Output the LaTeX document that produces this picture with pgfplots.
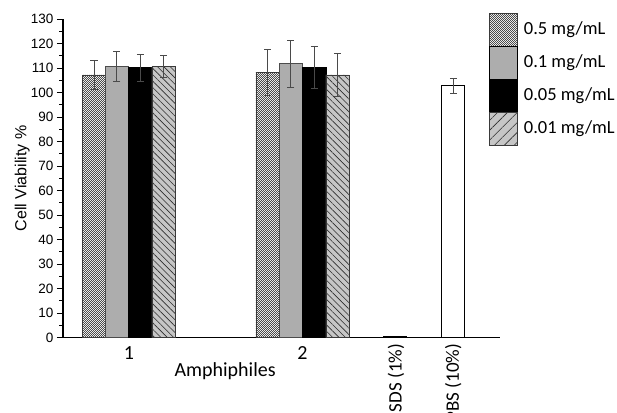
\documentclass[border=0pt]{standalone}
\usepackage{fontspec}
\setmainfont{Carlito}
\newfontfamily\arialf{Liberation Sans}
\usepackage{pgfplots}
\pgfplotsset{compat=1.18}
\usepackage{pgfplotstable}
\usetikzlibrary{patterns,patterns.meta}

\definecolor{barline}{HTML}{3A3A3A}
\definecolor{lightbar}{HTML}{ADADAD}
\definecolor{hatchbg}{HTML}{C6C6C6}
\definecolor{errcol}{HTML}{4A4A4A}

% small checkerboard for the 0.5 mg/mL bars
\pgfdeclarepatternformonly{checker}{\pgfpointorigin}{\pgfqpoint{2.4pt}{2.4pt}}{\pgfqpoint{2.4pt}{2.4pt}}{%
  \pgfpathrectangle{\pgfpointorigin}{\pgfqpoint{1.2pt}{1.2pt}}%
  \pgfpathrectangle{\pgfqpoint{1.2pt}{1.2pt}}{\pgfqpoint{1.2pt}{1.2pt}}%
  \pgfusepath{fill}}

\pgfplotsset{
  patch/.style={legend image code/.code={\draw[##1] (0pt,-16.25pt) rectangle (28pt,16.25pt);}},
  barstyle/.style={ybar, bar width=23.3, bar shift=0pt, forget plot,
    error bars/y dir=both, error bars/y explicit,
    error bars/error bar style={errcol, line width=0.7pt},
    error bars/error mark options={errcol, rotate=90, mark size=3.5pt, line width=0.7pt}},
}

% x is on a pixel-like scale so the uneven group spacing is kept
\pgfplotstableread{
x y err
94.0 107.2 6.0
267.5 108.3 9.4
}\concA
\pgfplotstableread{
x y err
116.75 110.6 6.2
290.75 111.8 9.6
}\concB
\pgfplotstableread{
x y err
140.25 110.1 5.5
314.25 110.3 8.7
}\concC
\pgfplotstableread{
x y err
163.5 110.8 4.5
337.5 107.2 8.6
}\concD
\pgfplotstableread{
x y err
395.0 0.5 0
}\sds
\pgfplotstableread{
x y err
453.3 102.7 3.1
}\pbs

\begin{document}
\begin{tikzpicture}
\begin{axis}[
  scale only axis,
  width=437pt, height=318.7pt,
  xmin=63, xmax=500,
  ymin=0, ymax=130,
  axis lines*=left,
  axis line style={line width=1.1pt, black},
  ytick={0,10,...,130},
  minor y tick num=1,
  tick align=outside,
  major tick length=6pt,
  minor tick length=3.5pt,
  ytick style={line width=0.9pt, black},
  yticklabel style={font=\arialf\fontsize{13.5}{15}\selectfont},
  /pgf/number format/assume math mode=true,
  xtick={129,302.5},
  xticklabels={1,2},
  xtick style={draw=none},
  xticklabel style={font=\fontsize{20}{24}\selectfont, inner sep=3pt},
  extra x ticks={396,453.3},
  extra x tick labels={SDS (1\%),PBS (10\%)},
  extra x tick style={xtick style={draw=none}, xticklabel style={rotate=90, anchor=east, inner sep=0pt, font=\fontsize{19}{22}\selectfont}},
  xlabel={Amphiphiles},
  xlabel style={at={(axis description cs:0.371,0)}, anchor=north, yshift=-25pt, inner sep=0pt, font=\fontsize{20}{24}\selectfont},
  ylabel={Cell Viability \%},
  ylabel style={at={(axis description cs:-0.0755,0.5)}, anchor=south, inner sep=0pt, font=\arialf\fontsize{16}{19}\selectfont},
  legend style={at={(axis description cs:0.975,1.0188)}, anchor=north west, draw=none, fill=none,
    inner sep=0pt, row sep=0pt, column sep=6pt, nodes={inner sep=0pt, text depth=},
    font=\fontsize{18.5}{22}\selectfont},
  legend cell align=left,
]
\addplot[barstyle, draw=barline, line width=0.6pt, pattern=checker, pattern color=gray!60!black]
  table[x=x, y=y, y error=err] {\concA};
\addplot[barstyle, draw=gray!60!black, line width=0.5pt, fill=lightbar]
  table[x=x, y=y, y error=err] {\concB};
\addplot[barstyle, draw=black, line width=0.6pt, fill=black]
  table[x=x, y=y, y error=err] {\concC};
\addplot[barstyle, draw=barline, line width=0.6pt, fill=hatchbg,
  postaction={pattern={Lines[angle=-45, distance=4.5pt, line width=0.6pt]}, pattern color=gray!35!black}]
  table[x=x, y=y, y error=err] {\concD};
\addplot[ybar, bar width=23.3, bar shift=0pt, forget plot, draw=black, fill=black, line width=0.8pt]
  table[x=x, y=y] {\sds};
\addplot[barstyle, draw=black, line width=1pt, fill=white]
  table[x=x, y=y, y error=err] {\pbs};

\addlegendimage{patch, draw=barline, line width=0.5pt, pattern=checker, pattern color=gray!60!black}
\addlegendentry{0.5 mg/mL}
\addlegendimage{patch, draw=none, fill=lightbar}
\addlegendentry{0.1 mg/mL}
\addlegendimage{patch, draw=black, fill=black}
\addlegendentry{0.05 mg/mL}
\addlegendimage{patch, draw=barline, line width=0.5pt, fill=hatchbg,
  postaction={pattern={Lines[angle=45, distance=7pt, line width=0.6pt]}, pattern color=gray!35!black}}
\addlegendentry{0.01 mg/mL}
\end{axis}
\pgfresetboundingbox
\path (-63pt,-74.3pt) rectangle (554pt,337.7pt);
\end{tikzpicture}
\end{document}
